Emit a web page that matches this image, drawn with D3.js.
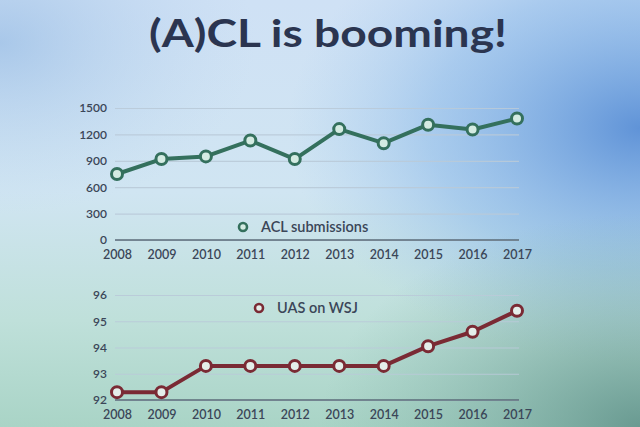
<!DOCTYPE html>
<html><head><meta charset="utf-8">
<script src="https://cdn.jsdelivr.net/npm/d3@7"></script>
<style>
html,body{margin:0;padding:0;width:640px;height:427px;overflow:hidden;}
svg{display:block;}
</style></head>
<body>
<script>
const years = ["2008","2009","2010","2011","2012","2013","2014","2015","2016","2017"];
const aclSubmissions = [750, 920, 950, 1130, 920, 1260, 1100, 1310, 1255, 1380];
const uasWSJ = [92.3, 92.3, 93.3, 93.3, 93.3, 93.3, 93.3, 94.05, 94.6, 95.4];
const topTicks = [0, 300, 600, 900, 1200, 1500];
const bottomTicks = [92, 93, 94, 95, 96];
const titleText = "(A)CL is booming!";
const legendTop = "ACL submissions";
const legendBottom = "UAS on WSJ";

const W = 640, H = 427;
const svg = d3.select("body").append("svg").attr("width", W).attr("height", H);
const defs = svg.append("defs");

const lg = defs.append("linearGradient").attr("id","bgv").attr("x1",0).attr("y1",0).attr("x2",0).attr("y2",1);
lg.append("stop").attr("offset","0%").attr("stop-color","#cfe1f5");
lg.append("stop").attr("offset","45%").attr("stop-color","#d0e5f2");
lg.append("stop").attr("offset","75%").attr("stop-color","#bfe0da");
lg.append("stop").attr("offset","100%").attr("stop-color","#a9d4c6");
svg.append("rect").attr("width",W).attr("height",H).attr("fill","url(#bgv)");

const rg = defs.append("radialGradient").attr("id","bgr").attr("cx",1.0).attr("cy",0.3).attr("r",0.55);
rg.append("stop").attr("offset","0%").attr("stop-color","#5a8fd6").attr("stop-opacity",0.95);
rg.append("stop").attr("offset","60%").attr("stop-color","#7aaee6").attr("stop-opacity",0.45);
rg.append("stop").attr("offset","100%").attr("stop-color","#9cc4ee").attr("stop-opacity",0);
svg.append("rect").attr("width",W).attr("height",H).attr("fill","url(#bgr)");

const rg2 = defs.append("radialGradient").attr("id","bgr2").attr("cx",1.0).attr("cy",1.0).attr("r",0.5);
rg2.append("stop").attr("offset","0%").attr("stop-color","#5e9088").attr("stop-opacity",0.85);
rg2.append("stop").attr("offset","100%").attr("stop-color","#7fb0a6").attr("stop-opacity",0);
svg.append("rect").attr("width",W).attr("height",H).attr("fill","url(#bgr2)");

const rg3 = defs.append("radialGradient").attr("id","bgr3").attr("cx",0.0).attr("cy",0.1).attr("r",0.4);
rg3.append("stop").attr("offset","0%").attr("stop-color","#8fb6e2").attr("stop-opacity",0.6);
rg3.append("stop").attr("offset","100%").attr("stop-color","#b8d2ee").attr("stop-opacity",0);
svg.append("rect").attr("width",W).attr("height",H).attr("fill","url(#bgr3)");

const font = "Lato, 'Open Sans', sans-serif";
const textColor = "#3b4658";

svg.append("text").attr("x", 328).attr("y", 47).attr("text-anchor","middle")
  .attr("font-family", font).attr("font-weight", 700).attr("font-size", 38)
  .attr("textLength", 358).attr("lengthAdjust", "spacingAndGlyphs")
  .attr("fill", "#2b3550").text(titleText);

const x = d3.scalePoint().domain(years).range([117, 517]);

function drawChart(cfg) {
  const g = svg.append("g");
  const y = d3.scaleLinear().domain(cfg.domain).range([cfg.bottom, cfg.top]);
  const yAxis = d3.axisLeft(y).tickValues(cfg.ticks).tickFormat(d3.format("d"))
    .tickSize(-(517 - 117) - 4).tickPadding(10);
  const ga = g.append("g").attr("transform", `translate(115,0)`).call(yAxis);
  ga.select(".domain").remove();
  ga.selectAll(".tick line").attr("stroke", "#b9cad8").attr("stroke-width", 1.2).attr("opacity",0.9);
  ga.selectAll(".tick text").attr("font-family", font).attr("font-size", 12).attr("font-weight", 600)
    .attr("fill", textColor).attr("dx", 2);
  g.append("line").attr("x1", 115).attr("x2", 519).attr("y1", y(cfg.domain[0])).attr("y2", y(cfg.domain[0]))
    .attr("stroke", "#5b6b78").attr("stroke-width", 1.6);
  const xAxis = d3.axisBottom(x).tickSize(0).tickPadding(cfg.xPad);
  const gx = g.append("g").attr("transform", `translate(0,${y(cfg.domain[0])})`).call(xAxis);
  gx.select(".domain").remove();
  gx.selectAll(".tick text").attr("font-family", font).attr("font-size", 12.5).attr("font-weight", 600)
    .attr("fill", textColor);
  const line = d3.line().x((d, i) => x(years[i])).y(d => y(d));
  g.append("path").datum(cfg.values).attr("d", line).attr("fill", "none")
    .attr("stroke", cfg.color).attr("stroke-width", 4).attr("stroke-linejoin","round");
  g.selectAll("circle.pt").data(cfg.values).enter().append("circle").attr("class","pt")
    .attr("cx", (d, i) => x(years[i])).attr("cy", d => y(d)).attr("r", 5.5)
    .attr("fill", cfg.fill).attr("stroke", cfg.color).attr("stroke-width", 3);
  g.append("circle").attr("cx", cfg.legX).attr("cy", cfg.legY).attr("r", 4)
    .attr("fill", cfg.fill).attr("stroke", cfg.color).attr("stroke-width", 2.6);
  g.append("text").attr("x", cfg.legX + 18).attr("y", cfg.legY + 5).attr("font-family", font)
    .attr("font-size", 14.5).attr("font-weight", 600).attr("fill", textColor).text(cfg.label);
}

drawChart({domain:[0,1500], ticks: topTicks, top:108, bottom:240, values: aclSubmissions,
  color:"#34705d", fill:"#d4ebe2", legX:243, legY:227, label: legendTop, xPad: 10});
drawChart({domain:[92,96], ticks: bottomTicks, top:295, bottom:400, values: uasWSJ,
  color:"#7a2a34", fill:"#e4eeea", legX:259, legY:308, label: legendBottom, xPad: 10});
</script>
</body></html>
